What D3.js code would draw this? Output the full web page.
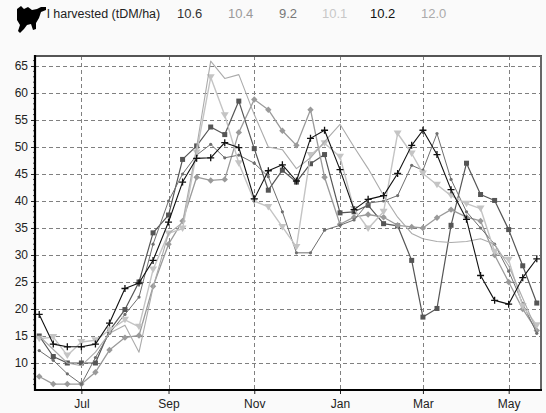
<!DOCTYPE html>
<html><head><meta charset="utf-8">
<script src="https://cdn.jsdelivr.net/npm/d3@7"></script>
<style>
html,body{margin:0;padding:0;background:#fafafa;}
svg{display:block;font-family:"Liberation Sans",Arial,sans-serif;}
</style></head>
<body>
<svg id="chart" width="546" height="413"></svg>
<script>
// ---- data ----
const dekadMonths = [5,6,7,8,9,10,11,0,1,2,3,4]; // Jun .. May
const dekadDays = [1,11,21];
const legendLabel = "l harvested (tDM/ha)";
const seriesNames = ["10.6","10.4","9.2","10.1","10.2","12.0"];
const xTickLabels = ["Jul","Sep","Nov","Jan","Mar","May"];
const yTicks = [10,15,20,25,30,35,40,45,50,55,60,65];

const s106 = [15.0,11.2,10.0,10.0,10.0,16.0,19.9,25.0,34.1,37.4,47.7,50.2,53.7,52.3,58.5,49.7,42.0,45.7,43.5,46.9,48.6,37.8,38.0,39.2,35.8,35.4,29.0,18.5,20.1,35.5,47.0,41.2,40.1,34.7,28.0,21.1];
const s104 = [7.5,6.1,6.1,6.1,8.3,12.4,14.7,15.1,24.2,32.0,36.3,44.4,43.8,44.0,52.7,58.8,56.9,53.0,50.3,56.9,44.4,35.7,37.0,37.5,37.0,35.5,35.2,35.0,36.9,38.4,37.0,36.3,30.0,25.0,20.0,16.0];
const s92  = [12.3,10.5,8.0,6.1,11.0,15.5,19.0,22.2,32.0,40.0,45.0,48.5,50.5,48.0,48.5,47.0,44.5,38.0,30.4,30.4,34.6,35.5,36.5,39.6,40.0,41.0,46.6,45.7,52.5,44.0,38.0,35.0,32.0,27.0,21.0,15.5];
const s101 = [14.5,14.8,11.4,13.9,14.2,16.1,18.0,16.7,27.3,34.0,34.9,49.0,62.9,55.9,47.0,40.0,38.9,35.2,31.5,48.5,50.7,48.2,38.5,34.9,38.0,52.5,48.8,45.1,43.0,41.0,39.5,38.6,30.6,29.1,20.5,17.0];
const s102 = [19.0,13.5,13.0,13.0,13.5,17.4,23.8,24.8,29.0,36.1,43.5,47.9,48.0,50.8,49.9,40.4,45.6,46.7,43.7,51.6,53.1,45.8,38.4,40.3,41.0,45.1,50.3,53.1,48.6,42.1,36.6,26.2,21.6,20.9,25.8,29.3];
const s120 = [15.0,12.5,10.0,9.5,12.0,15.5,17.0,12.0,24.0,34.0,36.0,50.0,65.9,62.7,63.4,56.0,50.0,49.5,46.0,48.0,51.0,54.2,50.0,46.0,41.0,37.0,34.0,33.0,32.5,32.3,32.5,33.0,32.0,28.0,22.0,16.0];

// ---- build ----
const dates = [];
dekadMonths.forEach(m => dekadDays.forEach(d => dates.push(new Date(m >= 5 ? 2001 : 2002, m, d))));
const tickDates = [new Date(2001,6,1),new Date(2001,8,1),new Date(2001,10,1),new Date(2002,0,1),new Date(2002,2,1),new Date(2002,4,1)];

const series = [
  {name:"10.6", vals:s106, color:"#555", lw:1.2, marker:"square", legend:"#333"},
  {name:"10.4", vals:s104, color:"#9a9a9a", lw:1.3, marker:"diamond", legend:"#999"},
  {name:"9.2",  vals:s92,  color:"#6e6e6e", lw:1, marker:"dot", legend:"#777"},
  {name:"10.1", vals:s101, color:"#c4c4c4", lw:1.4, marker:"tri", legend:"#c8c8c8"},
  {name:"12.0", vals:s120, color:"#ababab", lw:1.1, marker:"none", legend:"#aaa"},
  {name:"10.2", vals:s102, color:"#111", lw:1.1, marker:"plus", legend:"#111"}
];

const svg = d3.select("#chart");
const L=35, R=541, T=56, B=390;
const x = d3.scaleTime().domain([new Date(2001,4,29), new Date(2002,4,24)]).range([L,R]);
const y = d3.scaleLinear().domain([5,66.85]).range([B,T]);

svg.append("rect").attr("x",L).attr("y",T).attr("width",R-L).attr("height",B-T).attr("fill","#fff");

// grid
const grid = svg.append("g").attr("stroke","#808080").attr("stroke-width",1).attr("stroke-dasharray","4,3");
yTicks.forEach(v => grid.append("line").attr("x1",L).attr("x2",R).attr("y1",Math.round(y(v))+0.5).attr("y2",Math.round(y(v))+0.5));
tickDates.forEach(d => grid.append("line").attr("x1",Math.round(x(d))+0.5).attr("x2",Math.round(x(d))+0.5).attr("y1",T).attr("y2",B));

// series
const line = d3.line().x((d,i)=>x(dates[i])).y(d=>y(d));
const g = svg.append("g");
series.forEach(s => {
  g.append("path").attr("d", line(s.vals)).attr("fill","none").attr("stroke",s.color).attr("stroke-width",s.lw).attr("stroke-linejoin","round");
  const mg = g.append("g");
  s.vals.forEach((v,i) => {
    const px = x(dates[i]), py = y(v);
    if (s.marker==="square") mg.append("rect").attr("x",px-2.5).attr("y",py-2.5).attr("width",5).attr("height",5).attr("fill",s.color);
    else if (s.marker==="diamond") mg.append("path").attr("d",`M${px},${py-3.2}L${px+3.2},${py}L${px},${py+3.2}L${px-3.2},${py}Z`).attr("fill",s.color);
    else if (s.marker==="tri") mg.append("path").attr("d",`M${px-4},${py-3}L${px+4},${py-3}L${px},${py+3.5}Z`).attr("fill",s.color);
    else if (s.marker==="dot") mg.append("circle").attr("cx",px).attr("cy",py).attr("r",1.6).attr("fill",s.color);
    else if (s.marker==="plus") mg.append("path").attr("d",`M${px-3.5},${py}H${px+3.5}M${px},${py-3.5}V${py+3.5}`).attr("stroke",s.color).attr("stroke-width",1.3);
  });
});

// frame
svg.append("line").attr("x1",L).attr("x2",R+1).attr("y1",T).attr("y2",T).attr("stroke","#555").attr("stroke-width",2);
svg.append("line").attr("x1",R).attr("x2",R).attr("y1",T).attr("y2",B).attr("stroke","#666").attr("stroke-width",2);

// y axis
const yAxis = d3.axisLeft(y).tickValues(yTicks).tickSize(4).tickPadding(3);
const ya = svg.append("g").attr("transform",`translate(${L},0)`).call(yAxis);
ya.select(".domain").remove();
ya.selectAll("text").attr("font-size",12).attr("fill","#222").attr("font-family","Liberation Sans, Arial, sans-serif");
ya.selectAll("line").attr("stroke","#222");
const minor = d3.range(6,67).filter(v=>v%5!==0);
minor.forEach(v => svg.append("line").attr("x1",L-2).attr("x2",L).attr("y1",y(v)).attr("y2",y(v)).attr("stroke","#444"));

// x axis
const xAxis = d3.axisBottom(x).tickValues(tickDates).tickFormat((d,i)=>xTickLabels[i]).tickSize(4).tickPadding(5);
const xa = svg.append("g").attr("transform",`translate(0,${B})`).call(xAxis);
xa.select(".domain").remove();
xa.selectAll("text").attr("font-size",12).attr("fill","#222").attr("font-family","Liberation Sans, Arial, sans-serif");
xa.selectAll("line").attr("stroke","#222");

svg.append("line").attr("x1",L).attr("x2",L).attr("y1",T-1).attr("y2",B+1).attr("stroke","#000").attr("stroke-width",2.2);
svg.append("line").attr("x1",L-1).attr("x2",R+1).attr("y1",B).attr("y2",B).attr("stroke","#000").attr("stroke-width",2.2);

// legend
svg.append("path").attr("d","M17,9 L21,6 L24,9 L28,7 L32,10 L37,9 L41,7 L46,7 L46,10 L41,12 L39,18 L36,23 L36,29 L33,30 L31,24 L27,25 L24,29 L20,33 L18,31 L20,25 L17,20 Z").attr("fill","#000");
svg.append("text").attr("x",47).attr("y",18).attr("font-size",12.5).attr("fill","#222").text(legendLabel);
const legX = [177,228,279,322,370,421];
seriesNames.forEach((n,i)=>{
  const s = series.find(q=>q.name===n);
  svg.append("text").attr("x",legX[i]).attr("y",18).attr("font-size",13).attr("fill",s.legend).text(n);
});
</script>
</body></html>
